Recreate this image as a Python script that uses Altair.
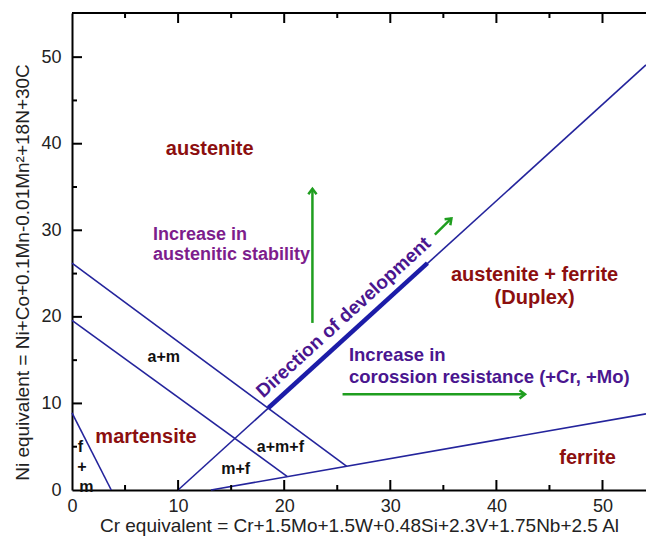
import altair as alt
import pandas as pd

# ---------------- data (axis units) ----------------
# phase-boundary lines
seg_x1 = [0.0, 0.0, 0.0, 10.0, 13.1]
seg_y1 = [26.2, 19.6, 8.9, 0.0, 0.0]
seg_x2 = [25.9, 20.3, 3.7, 54.1, 54.1]
seg_y2 = [2.74, 1.55, 0.0, 49.1, 8.8]

# thick "direction of development" segment
dev_x1 = [18.5]
dev_y1 = [9.47]
dev_x2 = [33.5]
dev_y2 = [26.2]

# green arrows
arr_x1 = [22.66, 25.5, 34.2]
arr_y1 = [19.3, 11.05, 29.5]
arr_x2 = [22.66, 42.7, 35.76]
arr_y2 = [34.8, 11.05, 31.37]
arr_angle = [0, 90, 46]

# region labels (dark red)
phase_text = ["austenite", "martensite", "ferrite", "austenite + ferrite", "(Duplex)"]
phase_x = [12.98, 6.97, 48.6, 43.6, 43.6]
phase_y = [39.34, 6.15, 3.66, 24.83, 22.14]

# small black labels
small_text = ["a+m", "a+m+f", "m+f", "f", "+", "m"]
small_x = [8.65, 19.64, 15.43, 0.79, 0.94, 1.35]
small_y = [15.32, 5.0, 2.39, 5.0, 2.69, 0.38]

# purple annotation
stab_text = ["Increase in", "austenitic stability"]
stab_x = [7.63, 7.63]
stab_y = [29.45, 27.14]

# indigo annotations
cor_text = ["Increase in", "corossion resistance (+Cr, +Mo)"]
cor_x = [26.1, 26.1]
cor_y = [15.59, 13.08]

dir_text = ["Direction of development"]
dir_x = [25.6]
dir_y = [19.95]

# ticks
x_major = [10, 20, 30, 40, 50]
x_minor = [5, 15, 25, 35, 45]
y_major = [10, 20, 30, 40, 50]
y_minor = [5, 15, 25, 35, 45]
tick_labels = [0, 10, 20, 30, 40, 50]

# ---------------- styling ----------------
W, H = 574, 477
XMAX, YMAX = 54.1, 55.1
FONT = "Liberation Sans"
NAVY = "#24249c"
DARKRED = "#8c0f0f"
PURPLE = "#7d1d8c"
INDIGO = "#4a168f"
GREEN = "#1f9e1f"

xs = alt.Scale(domain=[0, XMAX], nice=False, zero=False)
ys = alt.Scale(domain=[0, YMAX], nice=False, zero=False)

x_axis = alt.Axis(
    values=tick_labels, ticks=False, grid=False, domain=True,
    domainColor="black", domainWidth=2, labelFont=FONT, labelFontSize=18,
    labelColor="#222", labelPadding=7, labelFlush=False,
    title="Cr equivalent = Cr+1.5Mo+1.5W+0.48Si+2.3V+1.75Nb+2.5 Al",
    titleFont=FONT, titleFontSize=19, titleFontWeight="normal", titleColor="#222",
    titleX=W / 2, titleY=41, titleBaseline="alphabetic", titleAnchor="middle",
)
y_axis = alt.Axis(
    values=tick_labels, ticks=False, grid=False, domain=True,
    domainColor="black", domainWidth=2, labelFont=FONT, labelFontSize=18,
    labelColor="#222", labelPadding=11, labelFlush=False,
    title="Ni equivalent = Ni+Co+0.1Mn-0.01Mn²+18N+30C",
    titleFont=FONT, titleFontSize=19, titleFontWeight="normal", titleColor="#222",
    titleX=-50, titleY=259, titleAngle=270, titleAlign="center", titleBaseline="middle",
)


def X(f):
    return alt.X(f, type="quantitative", scale=xs, axis=x_axis)


def Y(f):
    return alt.Y(f, type="quantitative", scale=ys, axis=y_axis)


seg_df = pd.DataFrame({"x1": seg_x1, "y1": seg_y1, "x2": seg_x2, "y2": seg_y2})
dev_df = pd.DataFrame({"x1": dev_x1, "y1": dev_y1, "x2": dev_x2, "y2": dev_y2})
arr_df = pd.DataFrame({"x1": arr_x1, "y1": arr_y1, "x2": arr_x2, "y2": arr_y2, "a": arr_angle})

lines = alt.Chart(seg_df).mark_rule(color=NAVY, strokeWidth=1.6).encode(
    x=X("x1"), y=Y("y1"), x2="x2:Q", y2="y2:Q")
dev = alt.Chart(dev_df).mark_rule(color="#1c1ca8", strokeWidth=4.5).encode(
    x=X("x1"), y=Y("y1"), x2="x2:Q", y2="y2:Q")
shafts = alt.Chart(arr_df).mark_rule(color=GREEN, strokeWidth=2.5).encode(
    x=X("x1"), y=Y("y1"), x2="x2:Q", y2="y2:Q")
heads = alt.Chart(arr_df).mark_point(
    shape="M-0.75,1L0,0L0.75,1", size=121, filled=False, color=GREEN,
    strokeWidth=2.5, opacity=1).encode(
    x=X("x2"), y=Y("y2"), angle=alt.Angle("a:Q", scale=None))


def texts(txt, xv, yv, color, size, align="center", angle=None, weight="bold"):
    df = pd.DataFrame({"t": txt, "x": xv, "y": yv})
    kw = dict(font=FONT, fontSize=size, fontWeight=weight, color=color,
              align=align, baseline="middle")
    if angle is not None:
        kw["angle"] = angle
    return alt.Chart(df).mark_text(**kw).encode(x=X("x"), y=Y("y"), text="t:N")


t_phase = texts(phase_text, phase_x, phase_y, DARKRED, 20)
t_small = texts(small_text, small_x, small_y, "#111", 16)
t_stab = texts(stab_text, stab_x, stab_y, PURPLE, 18, align="left")
t_cor = texts(cor_text, cor_x, cor_y, INDIGO, 18.5, align="left")
t_dir = texts(dir_text, dir_x, dir_y, INDIGO, 19, angle=317.7)

# frame ticks (inward)
def xticks(vals, length, top=False):
    df = pd.DataFrame({"v": vals})
    if top:
        yy, yy2 = alt.value(0), alt.value(length)
    else:
        yy, yy2 = alt.value(H), alt.value(H - length)
    return alt.Chart(df).mark_rule(color="black", strokeWidth=2).encode(
        x=X("v"), y=yy, y2=yy2)


def yticks(vals, length):
    df = pd.DataFrame({"v": vals})
    return alt.Chart(df).mark_rule(color="black", strokeWidth=2).encode(
        y=Y("v"), x=alt.value(0), x2=alt.value(length))


top_frame = alt.Chart(pd.DataFrame({"v": [0]})).mark_rule(
    color="black", strokeWidth=2).encode(
    x=alt.value(0), x2=alt.value(W), y=alt.value(0))

chart = alt.layer(
    lines, dev, shafts, heads,
    t_phase, t_small, t_stab, t_cor, t_dir,
    xticks(x_major, 10), xticks(x_minor, 5),
    xticks(x_major, 10, top=True), xticks(x_minor, 5, top=True),
    yticks(y_major, 10), yticks(y_minor, 5),
    top_frame,
).properties(
    width=W, height=H,
    autosize=alt.AutoSizeParams(type="none"),
    padding={"left": 72, "top": 13, "right": 0, "bottom": 48},
    background="white",
).configure_view(stroke=None)

chart.save("out.html", embed_options={"renderer": "svg", "actions": False})
